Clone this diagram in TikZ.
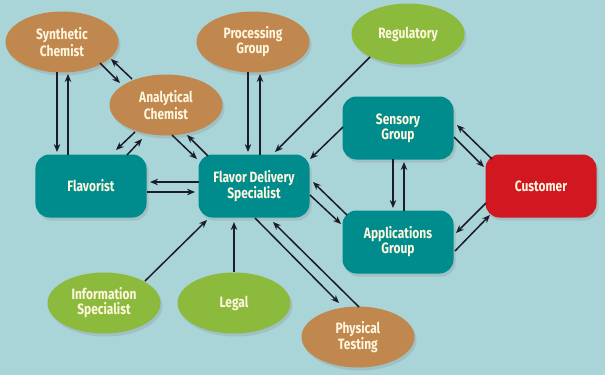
\documentclass[tikz,border=0pt]{standalone}
\usepackage{fontspec}
\newfontfamily\labfont[FakeStretch=0.8]{Fira Sans}
\usetikzlibrary{shapes.geometric,shadows,calc,arrows.meta}
\definecolor{bg}{HTML}{A9D4D8}
\definecolor{tealbox}{HTML}{008C8C}
\definecolor{brownel}{HTML}{C0874E}
\definecolor{greenel}{HTML}{8CBA3C}
\definecolor{redbox}{HTML}{D11820}
\definecolor{labtext}{HTML}{FFF6DE}
\definecolor{arrowc}{HTML}{1C1C28}
\tikzset{
  lbl/.style={text=labtext, align=center, inner sep=0pt,
    font=\labfont\bfseries\fontsize{15}{15}\selectfont,
    drop shadow={opacity=0.22, shadow xshift=2bp, shadow yshift=-3bp}},
  boxn/.style={lbl, rectangle, rounded corners=14bp, minimum width=111bp, minimum height=63bp},
  elln/.style={lbl, ellipse, minimum width=113bp, minimum height=61bp},
  tealn/.style={boxn, fill=tealbox},
  redn/.style={boxn, fill=redbox},
  brownn/.style={elln, fill=brownel},
  greenn/.style={elln, fill=greenel},
  arr/.style={draw=arrowc, line width=1.5bp, -{Stealth[length=8bp,width=6.5bp]}}
}
\begin{document}
\begin{tikzpicture}[x=1bp,y=-1bp]
\fill[bg] (0,0) rectangle (605,375);
\useasboundingbox (0,0) rectangle (605,375);
% nodes
\node[brownn] (syn) at (62,42) {Synthetic\\Chemist};
\node[brownn] (proc) at (253,42) {Processing\\Group};
\node[brownn] (ana) at (166,105) {Analytical\\Chemist};
\node[greenn] (reg) at (408,34) {Regulatory};
\node[tealn] (flav) at (91,186) {Flavorist};
\node[tealn] (fds) at (254,186) {Flavor Delivery\\Specialist};
\node[tealn] (sens) at (398,128) {Sensory\\Group};
\node[redn] (cust) at (541,186) {Customer};
\node[tealn] (app) at (398,242) {Applications\\Group};
\node[greenn] (info) at (104,303) {Information\\Specialist};
\node[greenn] (legal) at (234,303) {Legal};
\node[brownn] (phys) at (358,337) {Physical\\Testing};
% connectors
\draw[arr] ($(syn)+(-5,30)$) -- ($(flav)+(-34,-34)$);
\draw[arr] ($(flav)+(-23,-31)$) -- ($(syn)+(6,32)$);
\draw[arr] ($(syn)+(38,21)$) -- ($(ana)+(-46,-22)$);
\draw[arr] ($(ana)+(-34,-26)$) -- ($(syn)+(49,17)$);
\draw[arr] ($(ana)+(-31,27)$) -- ($(flav)+(25,-36)$);
\draw[arr] ($(flav)+(36,-31)$) -- ($(ana)+(-24,34)$);
\draw[arr] ($(ana)+(6,30)$) -- ($(fds)+(-57,-27)$);
\draw[arr] ($(fds)+(-46,-30)$) -- ($(ana)+(21,30)$);
\draw[arr] ($(proc)+(-5,30)$) -- ($(fds)+(-6,-34)$);
\draw[arr] ($(fds)+(6,-31)$) -- ($(proc)+(7,32)$);
\draw[arr] ($(reg)+(-38,23)$) -- ($(fds)+(21,-34)$);
\draw[arr,line width=2.2bp] ($(fds)+(-55,-4)$) -- ($(flav)+(59,-4)$);
\draw[arr] ($(flav)+(56,6)$) -- ($(fds)+(-59,6)$);
\draw[arr] ($(sens)+(-55,-1)$) -- ($(fds)+(56,-27)$);
\draw[arr] ($(cust)+(-49,-27)$) -- ($(sens)+(59,-3)$);
\draw[arr] ($(sens)+(56,9)$) -- ($(cust)+(-57,-19)$);
\draw[arr] ($(sens)+(-5,31)$) -- ($(app)+(-5,-34)$);
\draw[arr] ($(app)+(6,-31)$) -- ($(sens)+(6,34)$);
\draw[arr] ($(cust)+(-55,17)$) -- ($(app)+(58,-9)$);
\draw[arr] ($(app)+(57,9)$) -- ($(cust)+(-51,29)$);
\draw[arr] ($(app)+(-51,-27)$) -- ($(fds)+(59,-4)$);
\draw[arr] ($(fds)+(56,9)$) -- ($(app)+(-57,-18)$);
\draw[arr] ($(info)+(41,-22)$) -- ($(fds)+(-47,34)$);
\draw[arr] ($(legal)+(0,-31)$) -- ($(fds)+(-20,36)$);
\draw[arr] ($(fds)+(1,32)$) -- ($(phys)+(-19,-34)$);
\draw[arr] ($(phys)+(1,-30)$) -- ($(fds)+(19,36)$);
\end{tikzpicture}
\end{document}
